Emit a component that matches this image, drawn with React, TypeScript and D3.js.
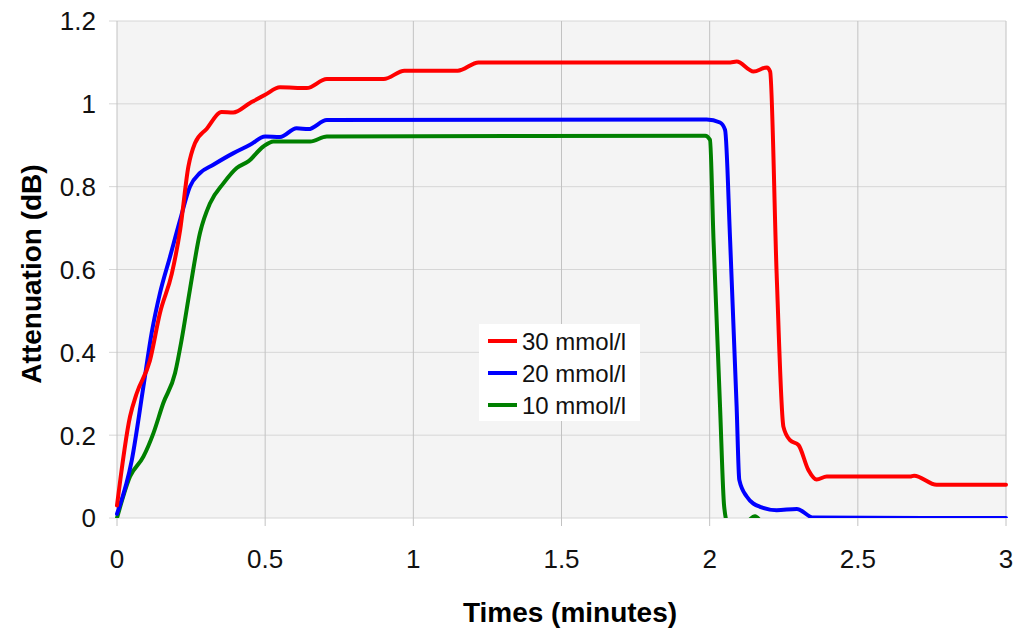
import { useEffect, useRef } from 'react'
import * as d3 from 'd3'

type Pt = [number, number]

const xTicks = [0, 0.5, 1, 1.5, 2, 2.5, 3]
const yTicks = [0, 0.2, 0.4, 0.6, 0.8, 1, 1.2]

const red30: Pt[] = [
  [0, 0.03], [0.044, 0.245], [0.066, 0.3], [0.111, 0.38], [0.145, 0.495], [0.185, 0.59],
  [0.213, 0.695], [0.241, 0.849], [0.263, 0.905], [0.303, 0.94], [0.353, 0.98], [0.392, 0.979],
  [0.449, 1.002], [0.5, 1.022], [0.55, 1.04], [0.64, 1.038], [0.708, 1.06], [0.82, 1.06],
  [0.9, 1.06], [0.97, 1.08], [1.15, 1.08], [1.22, 1.1], [2.07, 1.1], [2.091, 1.102],
  [2.148, 1.078], [2.193, 1.088], [2.204, 1.078], [2.226, 0.59], [2.249, 0.22], [2.271, 0.188],
  [2.3, 0.176], [2.333, 0.116], [2.361, 0.093], [2.395, 0.1], [2.676, 0.1], [2.69, 0.102],
  [2.766, 0.08], [3, 0.08],
]

const blue20: Pt[] = [
  [0, 0.01], [0.05, 0.14], [0.089, 0.317], [0.117, 0.447], [0.145, 0.543], [0.179, 0.631],
  [0.213, 0.72], [0.246, 0.8], [0.28, 0.833], [0.325, 0.853], [0.393, 0.881], [0.449, 0.901],
  [0.5, 0.921], [0.55, 0.92], [0.606, 0.941], [0.646, 0.939], [0.708, 0.961], [1.99, 0.962],
  [2.035, 0.955], [2.052, 0.937], [2.069, 0.671], [2.091, 0.269], [2.1, 0.092], [2.125, 0.052],
  [2.17, 0.027], [2.226, 0.019], [2.294, 0.022], [2.35, 0.001], [3, 0],
]

const green10: Pt[] = [
  [0, 0], [0.044, 0.1], [0.089, 0.148], [0.123, 0.205], [0.156, 0.277], [0.196, 0.35],
  [0.218, 0.43], [0.246, 0.551], [0.28, 0.688], [0.314, 0.76], [0.359, 0.808], [0.404, 0.845],
  [0.443, 0.861], [0.494, 0.897], [0.528, 0.909], [0.652, 0.909], [0.708, 0.921], [1.985, 0.923],
  [2.001, 0.913], [2.013, 0.671], [2.035, 0.269], [2.049, 0.027], [2.06, -0.01], [2.12, -0.01],
  [2.153, 0.004], [2.18, -0.01], [3, -0.01],
]

const series = [
  { name: '30 mmol/l', color: '#ff0000', data: red30 },
  { name: '20 mmol/l', color: '#0000ff', data: blue20 },
  { name: '10 mmol/l', color: '#008000', data: green10 },
]

const W = 1024, H = 640
const m = { left: 117, right: 18, top: 21, bottom: 122 }

const Chart = () => {
  const ref = useRef<SVGSVGElement | null>(null)
  useEffect(() => {
    const el = ref.current
    if (!el) return
    const svg = d3.select(el)
    svg.selectAll('*').remove()
    const x = d3.scaleLinear().domain([0, 3]).range([m.left, W - m.right])
    const y = d3.scaleLinear().domain([0, 1.2]).range([H - m.bottom, m.top])
    const font = 'Liberation Sans, Arial, sans-serif'

    svg.append('rect').attr('width', W).attr('height', H).attr('fill', '#fff')
    svg.append('rect')
      .attr('x', x(0)).attr('y', y(1.2))
      .attr('width', x(3) - x(0)).attr('height', y(0) - y(1.2))
      .attr('fill', '#f4f4f4')

    // grid
    svg.append('g').selectAll('line').data(yTicks).join('line')
      .attr('x1', x(0) - 8).attr('x2', x(3))
      .attr('y1', d => y(d)).attr('y2', d => y(d))
      .attr('stroke', '#d6d6d6').attr('stroke-width', 1)
    svg.append('g').selectAll('line').data(xTicks).join('line')
      .attr('x1', d => x(d)).attr('x2', d => x(d))
      .attr('y1', y(1.2)).attr('y2', y(0) + 8)
      .attr('stroke', '#c2c2c2').attr('stroke-width', 1)

    // tick labels
    svg.append('g').selectAll('text').data(yTicks).join('text')
      .attr('x', 96).attr('y', d => y(d)).attr('dy', '0.36em')
      .attr('text-anchor', 'end').attr('font-family', font).attr('font-size', 26)
      .attr('fill', '#111').text(d => String(d))
    svg.append('g').selectAll('text').data(xTicks).join('text')
      .attr('x', d => x(d)).attr('y', 568)
      .attr('text-anchor', 'middle').attr('font-family', font).attr('font-size', 26)
      .attr('fill', '#111').text(d => String(d))

    svg.append('text').attr('x', 570).attr('y', 622).attr('text-anchor', 'middle')
      .attr('font-family', font).attr('font-size', 28).attr('font-weight', 'bold')
      .text('Times (minutes)')
    svg.append('text').attr('transform', `translate(41,274) rotate(-90)`)
      .attr('text-anchor', 'middle')
      .attr('font-family', font).attr('font-size', 28).attr('font-weight', 'bold')
      .text('Attenuation (dB)')

    svg.append('clipPath').attr('id', 'plot').append('rect')
      .attr('x', x(0) - 2).attr('y', y(1.2)).attr('width', x(3) - x(0) + 4).attr('height', y(0) - y(1.2))

    const line = d3.line<Pt>().x(d => x(d[0])).y(d => y(d[1])).curve(d3.curveMonotoneX)
    const g = svg.append('g').attr('clip-path', 'url(#plot)')
    series.slice().reverse().forEach(s => {
      g.append('path').datum(s.data).attr('d', line)
        .attr('fill', 'none').attr('stroke', s.color).attr('stroke-width', 4)
        .attr('stroke-linejoin', 'round').attr('stroke-linecap', 'round')
    })

    // legend
    const lg = svg.append('g').attr('transform', 'translate(479,324)')
    lg.append('rect').attr('width', 161).attr('height', 97).attr('fill', '#fff')
    series.forEach((s, i) => {
      const cy = 17 + i * 32
      lg.append('line').attr('x1', 9).attr('x2', 38).attr('y1', cy).attr('y2', cy)
        .attr('stroke', s.color).attr('stroke-width', 4)
      lg.append('text').attr('x', 43).attr('y', cy).attr('dy', '0.36em')
        .attr('font-family', font).attr('font-size', 24).attr('fill', '#111').text(s.name)
    })
  }, [])
  return <svg ref={ref} width={W} height={H} style={{ display: 'block' }} />
}

export default function App() {
  return (
    <div style={{ margin: -8 }}>
      <Chart />
    </div>
  )
}
